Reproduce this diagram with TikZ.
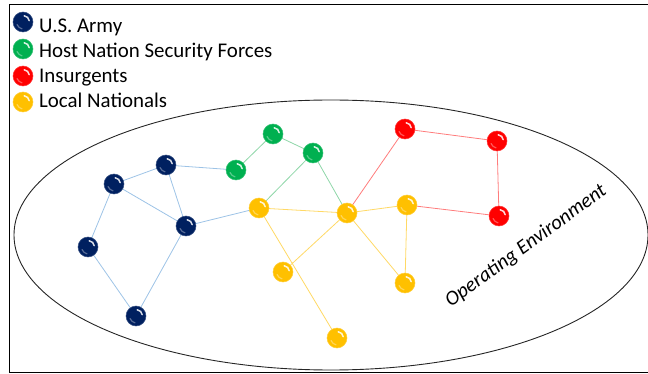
\documentclass[tikz,border=0pt]{standalone}
\usepackage{fontspec}
\setmainfont{Carlito}
\usetikzlibrary{backgrounds,calc}

\definecolor{army}{HTML}{002060}
\definecolor{hnsf}{HTML}{00B050}
\definecolor{insurg}{HTML}{FF0000}
\definecolor{locnat}{HTML}{FFC000}
\definecolor{armyline}{HTML}{9DC3E6}
\definecolor{hnsfline}{HTML}{8ED6A8}
\definecolor{insurgline}{HTML}{FF7C7C}
\definecolor{locnatline}{HTML}{FFD966}

\tikzset{
  ball/.style={circle,inner sep=0pt,minimum size=20pt,fill=#1,draw=#1!80!white,line width=0.5pt,
    path picture={
      \coordinate (bc) at (path picture bounding box.center);
      % glossy highlight on the upper right rim
      \draw[white,opacity=0.85,line width=1.5pt,line cap=round]
        ($(bc)+(1.2pt,6.2pt)$) .. controls ($(bc)+(4pt,5.8pt)$) and ($(bc)+(5.8pt,4pt)$) .. ($(bc)+(6.2pt,1.4pt)$);
      % soft reflection on the lower left rim
      \draw[white,opacity=0.35,line width=1.2pt,line cap=round]
        ($(bc)+(-6pt,-2.5pt)$) .. controls ($(bc)+(-5pt,-5pt)$) and ($(bc)+(-3pt,-6.2pt)$) .. ($(bc)+(-1pt,-6.8pt)$);
    }},
  link/.style={draw=#1,line width=0.8pt},
  legend/.style={anchor=base west,inner sep=0pt,font=\fontsize{20.9}{24}\selectfont},
}

\begin{document}
\begin{tikzpicture}[x=1pt,y=-1pt]
  \useasboundingbox (0,0) rectangle (648,374);
  % frame and operating environment
  \draw[line width=1.6pt] (9.5,4.5) rectangle (652,372.5);
  \draw[line width=0.9pt,black!85] (331,235) ellipse (317pt and 135pt);
  \node[rotate=36,font=\itshape\fontsize{20.5}{24}\selectfont,inner sep=0pt] (env) at (526,246) {Operating Environment};

  % legend
  \node[ball=army]   (la) at (23,22) {};
  \node[ball=hnsf]   (lh) at (23,49) {};
  \node[ball=insurg] (li) at (23,76) {};
  \node[ball=locnat] (ll) at (23,102) {};
  \node[legend] (ta) at (39,33)  {U.S. Army};
  \node[legend] (th) at (39,58)  {Host Nation Security Forces};
  \node[legend] (ti) at (39,83)  {Insurgents};
  \node[legend] (tl) at (39,108) {Local Nationals};

  % U.S. Army
  \node[ball=army] (a1) at (114,184) {};
  \node[ball=army] (a2) at (166,165) {};
  \node[ball=army] (a3) at (186,226) {};
  \node[ball=army] (a4) at (88,247) {};
  \node[ball=army] (a5) at (136,316) {};
  % Host nation security forces
  \node[ball=hnsf] (g1) at (236,170) {};
  \node[ball=hnsf] (g2) at (273,134) {};
  \node[ball=hnsf] (g3) at (313,153) {};
  % Local nationals
  \node[ball=locnat] (y1) at (259,208) {};
  \node[ball=locnat] (y2) at (347,213) {};
  \node[ball=locnat] (y3) at (283,272) {};
  \node[ball=locnat] (y4) at (337,338) {};
  \node[ball=locnat] (y5) at (407,205) {};
  \node[ball=locnat] (y6) at (405,283) {};
  % Insurgents
  \node[ball=insurg] (r1) at (405,129) {};
  \node[ball=insurg] (r2) at (497,141) {};
  \node[ball=insurg] (r3) at (499,216) {};

  \begin{pgfonlayer}{background}
    \draw[link=armyline] (a1.center) -- (a2.center) (a1.center) -- (a3.center) (a1.center) -- (a4.center)
      (a2.center) -- (a3.center) (a4.center) -- (a5.center) (a5.center) -- (a3.center)
      (a2.center) -- (g1.center) (a3.center) -- (y1.center);
    \draw[link=hnsfline] (g1.center) -- (g2.center) -- (g3.center) (g3.center) -- (y1.center) (g3.center) -- (y2.center);
    \draw[link=locnatline] (y1.center) -- (y2.center) (y1.center) -- (y4.center) (y2.center) -- (y3.center)
      (y2.center) -- (y6.center) (y2.center) -- (y5.center) (y5.center) -- (y6.center);
    \draw[link=insurgline] (y2.center) -- (r1.center) -- (r2.center) -- (r3.center) -- (y5.center);
  \end{pgfonlayer}
\end{tikzpicture}
\end{document}
